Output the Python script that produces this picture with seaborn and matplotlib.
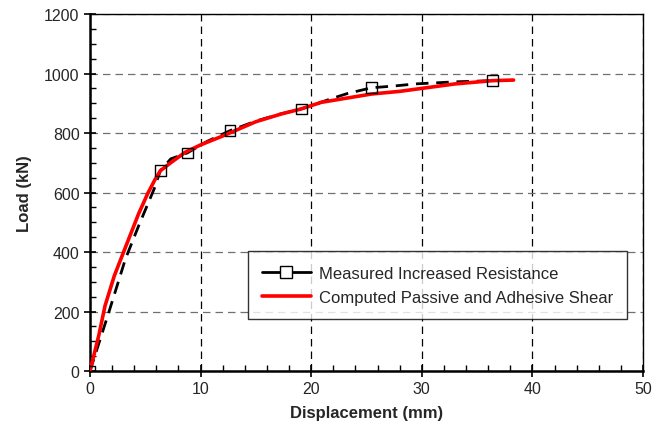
import pandas as pd
import seaborn as sns
import matplotlib.pyplot as plt
from matplotlib.lines import Line2D
from matplotlib.ticker import MultipleLocator

# measured curve (dashed) and the points shown with square markers
meas_x = [0, 1.7, 3.2, 4.4, 5.8, 6.36, 7.3, 8.8, 10.6, 12.67, 15.0, 17.0, 19.1, 20.5, 21.7, 23.3, 25.45, 27.5, 29.4, 33.0, 36.4]
meas_y = [0, 197, 376, 488, 612, 673, 713, 733, 772, 808, 840, 862, 881, 898, 914, 933, 952, 958, 965, 972, 976]
mark_x = [0, 6.36, 8.8, 12.67, 19.1, 25.45, 36.4]
mark_y = [0, 673, 733, 808, 881, 952, 976]

# computed curve (red)
comp_x = [0, 0.8, 1.36, 2.2, 3.03, 4.39, 5.2, 5.9, 6.36, 7.3, 8.6, 10.0, 12.0, 15.0, 17.3, 19.1, 20.9, 23.0, 25.45, 28.0, 30.0, 33.0, 36.4, 38.3]
comp_y = [0, 120, 219, 320, 399, 528, 595, 645, 673, 700, 735, 760, 790, 838, 864, 881, 903, 916, 931, 940, 950, 965, 976, 978]

sns.set_style("white")
plt.rcParams['font.family'] = ['Liberation Sans', 'DejaVu Sans']

fig = plt.figure(figsize=(6.65, 4.35), dpi=100)
ax = fig.add_axes([0.1353, 0.1448, 0.8316, 0.8207])

sns.lineplot(x=meas_x, y=meas_y, ax=ax, color='black', linewidth=2.0,
             dashes=False, linestyle=(0, (4.5, 2.8)), sort=False, zorder=3)
sns.lineplot(x=comp_x, y=comp_y, ax=ax, color='red', linewidth=2.6, sort=False, zorder=4)
sns.scatterplot(x=mark_x, y=mark_y, ax=ax, marker='s', s=60, facecolor='none',
                edgecolor='black', linewidth=1.0, zorder=5)

ax.set_xlim(0, 50)
ax.set_ylim(0, 1200)
ax.xaxis.set_major_locator(MultipleLocator(10))
ax.xaxis.set_minor_locator(MultipleLocator(2))
ax.yaxis.set_major_locator(MultipleLocator(200))
ax.yaxis.set_minor_locator(MultipleLocator(50))
ax.tick_params(which='major', direction='inout', length=8, width=1.2, labelsize=11.5, color='black')
ax.tick_params(which='minor', direction='in', length=4, width=1.0, color='black')
ax.tick_params(axis='x', which='both', bottom=True)
ax.tick_params(axis='y', which='both', left=True)

ax.xaxis.grid(True, which='major', color='black', linestyle=(0, (6, 4)), linewidth=0.9)
ax.yaxis.grid(True, which='major', color='#707070', linestyle=(0, (6, 4)), linewidth=0.9)
ax.set_axisbelow(True)

for side in ['left', 'bottom']:
    ax.spines[side].set_linewidth(1.8)
    ax.spines[side].set_color('black')
for side in ['top', 'right']:
    ax.spines[side].set_linewidth(1.0)
    ax.spines[side].set_color('black')

ax.set_xlabel('Displacement (mm)', fontsize=12, fontweight='bold', labelpad=6)
ax.set_ylabel('Load (kN)', fontsize=12, fontweight='bold', labelpad=9)

handles = [
    Line2D([], [], color='black', linewidth=2.0, marker='s', markersize=8,
           markerfacecolor='white', markeredgecolor='black', markeredgewidth=1.0),
    Line2D([], [], color='red', linewidth=2.6),
]
labels = ['Measured Increased Resistance', 'Computed Passive and Adhesive Shear']
leg = ax.legend(handles, labels, loc='lower left', bbox_to_anchor=(0.286, 0.146),
                fontsize=12, frameon=True, fancybox=False, edgecolor='black',
                handlelength=2.9, handletextpad=0.5, labelspacing=0.55,
                borderpad=0.85, borderaxespad=0)
leg.get_frame().set_linewidth(1.0)

fig.savefig('out.png', dpi=100)
